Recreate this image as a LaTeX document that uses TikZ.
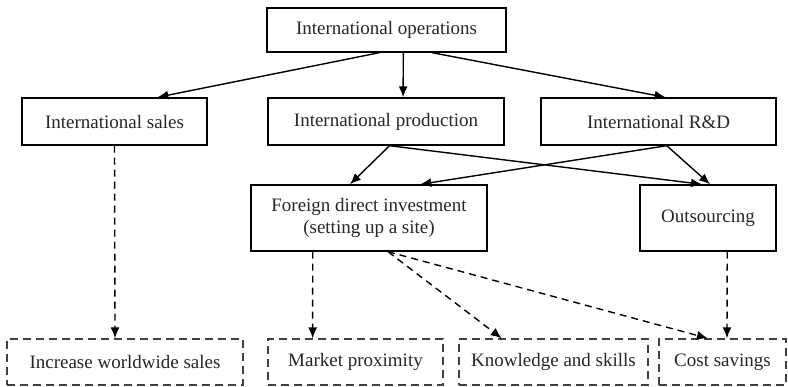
\documentclass[tikz,border=0pt]{standalone}
\usepackage{fontspec}
\setmainfont{Liberation Serif}
\usetikzlibrary{arrows.meta,calc}
\tikzset{
  box/.style={draw, line width=1.4pt, rectangle, inner sep=0pt, align=center, font=\fontsize{19}{21.5}\selectfont, text=black!85},
  goal/.style={box, draw=black!75, dash pattern=on 8pt off 5pt},
  arr/.style={line width=1.4pt, -{Latex[length=11pt,width=9pt]}},
  darr/.style={arr, dash pattern=on 7pt off 5pt},
}
% point at fraction #2 along the bottom / top edge of node #1
\newcommand{\lowpt}[2]{($(#1.south west)!#2!(#1.south east)$)}
\newcommand{\highpt}[2]{($(#1.north west)!#2!(#1.north east)$)}
\begin{document}
\begin{tikzpicture}[x=1pt,y=-1pt]
\useasboundingbox (0,0) rectangle (788,386);
% level 1
\node[box, minimum width=239pt, minimum height=44pt] (ops) at (386.5,30) {International operations};
% level 2
\node[box, minimum width=185pt, minimum height=47pt] (sales) at (114.5,121.5) {International sales};
\node[box, minimum width=236pt, minimum height=47pt] (prod) at (386,121.5) {International production};
\node[box, minimum width=235pt, minimum height=47pt] (rd) at (658.5,121.5) {International R\&D};
% level 3
\node[box, minimum width=236pt, minimum height=66pt] (fdi) at (369,218) {Foreign direct investment\\(setting up a site)};
\node[box, minimum width=136pt, minimum height=66pt] (out) at (708,218) {Outsourcing};
% outcomes
\node[goal, minimum width=236pt, minimum height=46pt] (inc) at (125,362) {Increase worldwide sales};
\node[goal, minimum width=175pt, minimum height=46pt] (mkt) at (355.5,362) {Market proximity};
\node[goal, minimum width=189pt, minimum height=46pt] (know) at (553.5,362) {Knowledge and skills};
\node[goal, minimum width=127pt, minimum height=46pt] (cost) at (722.5,362) {Cost savings};
% solid links
\draw[arr] \lowpt{ops}{0.47} -- \highpt{sales}{0.73};
\draw[arr] \lowpt{ops}{0.57} -- \highpt{prod}{0.572};
\draw[arr] \lowpt{ops}{0.69} -- \highpt{rd}{0.53};
\draw[arr] \lowpt{prod}{0.515} -- \highpt{fdi}{0.42};
\draw[arr] \lowpt{prod}{0.515} -- \highpt{out}{0.456};
\draw[arr] \lowpt{rd}{0.535} -- \highpt{fdi}{0.716};
\draw[arr] \lowpt{rd}{0.535} -- \highpt{out}{0.515};
% dashed links
\draw[darr] \lowpt{sales}{0.5} -- \highpt{inc}{0.458};
\draw[darr] \lowpt{fdi}{0.263} -- \highpt{mkt}{0.257};
\draw[darr] \lowpt{fdi}{0.58} -- \highpt{know}{0.228};
\draw[darr] \lowpt{fdi}{0.58} -- \highpt{cost}{0.386};
\draw[darr] \lowpt{out}{0.64} -- \highpt{cost}{0.535};
\end{tikzpicture}
\end{document}
